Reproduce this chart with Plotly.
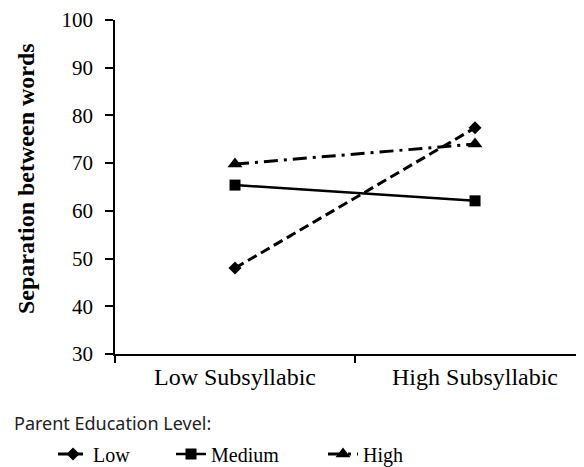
import plotly.graph_objects as go

categories = ["Low Subsyllabic", "High Subsyllabic"]
low_vals = [48.0, 77.4]
medium_vals = [65.4, 62.1]
high_vals = [69.8, 74.0]
y_ticks = [30, 40, 50, 60, 70, 80, 90, 100]

serif = "Liberation Serif, Times New Roman, serif"
sans = "Noto Sans, Open Sans, sans-serif"

# page body has an 8px margin, so the figure is sized to fill the rest
W, H = 576, 459
L, T, B = 107, 12, 113
PW, PH = W - L, H - T - B

fig = go.Figure()
fig.add_trace(go.Scatter(x=categories, y=low_vals, name="Low", mode="lines+markers",
                         line=dict(color="black", width=3, dash="10px,5px"),
                         marker=dict(symbol="diamond", size=10, color="black"),
                         legend="legend"))
fig.add_trace(go.Scatter(x=categories, y=medium_vals, name="Medium", mode="lines+markers",
                         line=dict(color="black", width=2.5, dash="solid"),
                         marker=dict(symbol="square", size=11, color="black"),
                         legend="legend2"))
fig.add_trace(go.Scatter(x=categories, y=high_vals, name="High", mode="lines+markers",
                         line=dict(color="black", width=3, dash="14px,6px,3px,6px"),
                         marker=dict(symbol="triangle-up", size=13, color="black"),
                         legend="legend3"))

leg_font = dict(family=serif, size=20, color="black")


def leg(px):
    return dict(orientation="h", x=px / W, xref="container", xanchor="left",
                y=1 - 446 / H, yref="container", yanchor="middle",
                font=leg_font, bgcolor="rgba(0,0,0,0)", itemwidth=30)


def px_x(fx):
    return (fx - 8 - L) / PW


def px_y(fy):
    return (T + PH - (fy - 8)) / PH


fig.update_layout(
    width=W, height=H,
    margin=dict(l=L, r=0, t=T, b=B, autoexpand=False),
    plot_bgcolor="white", paper_bgcolor="white",
    showlegend=True,
    legend=leg(45),
    legend2=leg(163),
    legend3=leg(315),
    annotations=[
        dict(text="Parent Education Level:", x=px_x(12), y=px_y(423),
             xref="paper", yref="paper", xanchor="left", yanchor="middle",
             showarrow=False, font=dict(family=sans, size=18, color="#222")),
        dict(text="<b>Separation between words</b>", x=px_x(26), y=px_y(179),
             xref="paper", yref="paper", xanchor="center", yanchor="middle",
             textangle=-90, showarrow=False,
             font=dict(family=serif, size=24, color="black")),
    ],
    xaxis=dict(type="category", range=[-0.5, 1.454], showline=True, linecolor="black",
               linewidth=1.5, ticks="outside", tickson="boundaries", ticklen=7,
               tickcolor="black", tickwidth=1.5, showgrid=False, automargin=False,
               tickfont=dict(family=serif, size=24, color="black"), zeroline=False),
    yaxis=dict(range=[30, 100], tickvals=y_ticks, showline=True, linecolor="black",
               linewidth=1.5, ticks="outside", ticklen=8, tickcolor="black", tickwidth=1.5,
               showgrid=False, zeroline=False, automargin=False, ticklabelstandoff=8,
               tickfont=dict(family=serif, size=21, color="black")),
)

fig.write_html("out.html")
